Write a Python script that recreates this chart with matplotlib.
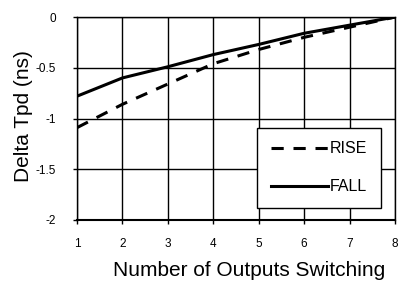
import matplotlib.pyplot as plt

outputs = [1, 2, 3, 4, 5, 6, 7, 8]
rise = [-1.09, -0.86, -0.66, -0.46, -0.32, -0.2, -0.1, 0.0]
fall = [-0.78, -0.6, -0.49, -0.37, -0.27, -0.16, -0.08, 0.0]
x_ticks = [1, 2, 3, 4, 5, 6, 7, 8]
y_ticks = [0, -0.5, -1, -1.5, -2]
y_labels = ['0', '-0.5', '-1', '-1.5', '-2']

plt.rcParams['font.family'] = ['Liberation Sans', 'DejaVu Sans']

fig = plt.figure(figsize=(3.98, 2.84), dpi=100)
ax = fig.add_axes([0.1935, 0.2254, 0.799, 0.7146])

ax.plot(outputs, rise, color='black', lw=2.2, linestyle=(0, (4, 3.2)), label='RISE')
ax.plot(outputs, fall, color='black', lw=2.2, label='FALL')

ax.set_xlim(1, 8)
ax.set_ylim(-2, 0)
ax.set_xticks(x_ticks)
ax.set_yticks(y_ticks)
ax.set_yticklabels(y_labels)
ax.grid(True, color='black', lw=1)
for s in ax.spines.values():
    s.set_linewidth(1)
ax.spines['bottom'].set_linewidth(1.5)
ax.tick_params(axis='x', labelsize=8.5, direction='out', length=3, width=1, pad=10)
ax.tick_params(axis='y', labelsize=8.5, direction='out', length=3, width=1, pad=12)

ax.set_xlabel('Number of Outputs Switching', fontsize=15, labelpad=10)
ax.xaxis.set_label_coords(0.54, -0.2)
ax.xaxis.label.set_verticalalignment('top')
ax.set_ylabel('Delta Tpd (ns)', fontsize=15)
ax.yaxis.set_label_coords(-0.138, 0.51)

leg = ax.legend(loc='lower right', bbox_to_anchor=(0.956, 0.059), fontsize=11.5,
                frameon=True, fancybox=False, handlelength=3.6, handletextpad=0.1,
                labelspacing=1.45, borderpad=0.85, borderaxespad=0)
leg.get_frame().set_edgecolor('black')
leg.get_frame().set_linewidth(1)
leg.get_frame().set_alpha(1)

fig.savefig('out.png', dpi=100)
